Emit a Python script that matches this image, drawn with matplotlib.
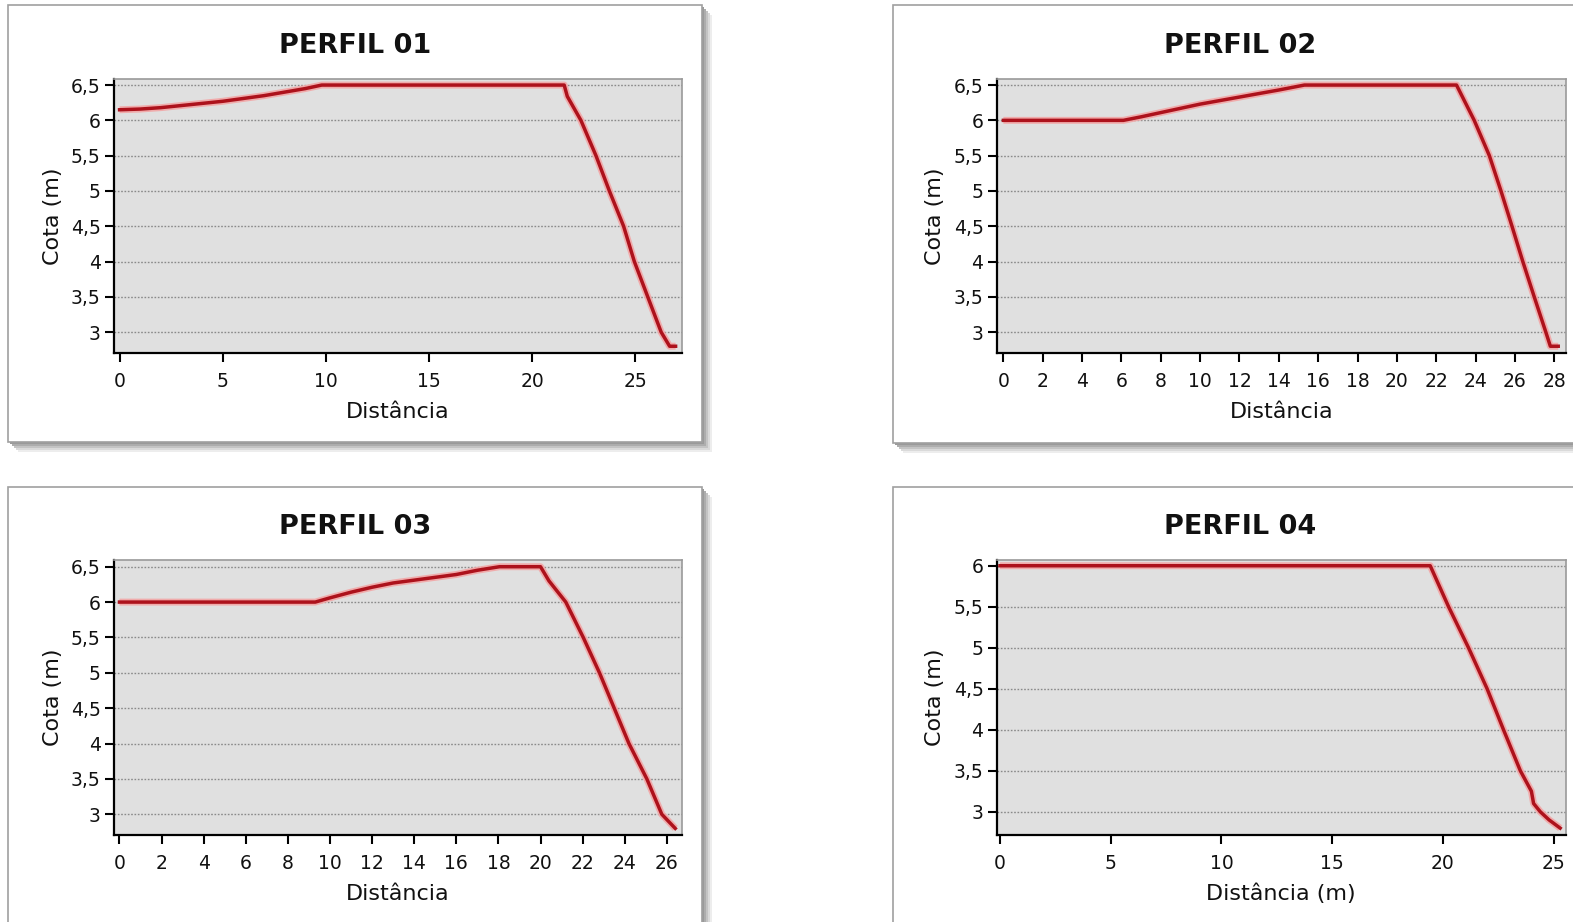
import matplotlib
matplotlib.use("Agg")
import matplotlib.pyplot as plt
from matplotlib.patches import Rectangle

plt.rcParams['font.family'] = ['DejaVu Sans']

# ---------------- data ----------------
titles = ["PERFIL 01", "PERFIL 02", "PERFIL 03", "PERFIL 04"]
xlabels = ["Distância", "Distância", "Distância", "Distância (m)"]
ylabel = "Cota (m)"

p1_x = [0, 1, 2, 3, 4, 5, 6, 7, 8, 9, 9.8, 21.55, 21.7, 22.36, 23.09, 23.74,
        24.43, 24.95, 25.6, 26.25, 26.66, 26.95]
p1_y = [6.15, 6.16, 6.18, 6.21, 6.24, 6.27, 6.31, 6.35, 6.40, 6.45, 6.5, 6.5,
        6.34, 6.0, 5.5, 5.0, 4.5, 4.0, 3.5, 3.0, 2.8, 2.8]

p2_x = [0, 6.1, 7, 8, 9, 10, 11, 12, 13, 14, 15.3, 23.03, 23.93, 24.7, 25.29,
        25.85, 26.4, 26.98, 27.57, 27.8, 28.2]
p2_y = [6.0, 6.0, 6.05, 6.11, 6.17, 6.23, 6.28, 6.33, 6.38, 6.43, 6.5, 6.5,
        6.0, 5.5, 5.0, 4.5, 4.0, 3.5, 3.0, 2.8, 2.8]

p3_x = [0, 9.3, 10, 11, 12, 13, 14, 15, 16, 17, 18.05, 20.0, 20.4, 21.2, 22.03,
        22.8, 23.5, 24.2, 25.05, 25.76, 26.4]
p3_y = [6.0, 6.0, 6.06, 6.14, 6.21, 6.27, 6.31, 6.35, 6.39, 6.45, 6.5, 6.5,
        6.3, 6.0, 5.5, 5.0, 4.5, 4.0, 3.5, 3.0, 2.8]

p4_x = [0, 19.43, 20.26, 21.16, 22.0, 22.74, 23.5, 24.0, 24.1, 24.4, 24.8, 25.3]
p4_y = [6.0, 6.0, 5.5, 5.0, 4.5, 4.0, 3.5, 3.25, 3.1, 3.0, 2.9, 2.8]

xticks_1 = [0, 5, 10, 15, 20, 25]
xticks_2 = list(range(0, 29, 2))
xticks_3 = list(range(0, 27, 2))
xticks_4 = [0, 5, 10, 15, 20, 25]

yticks_a = [3, 3.5, 4, 4.5, 5, 5.5, 6, 6.5]
ylabels_a = ["3", "3,5", "4", "4,5", "5", "5,5", "6", "6,5"]
yticks_b = [3, 3.5, 4, 4.5, 5, 5.5, 6]
ylabels_b = ["3", "3,5", "4", "4,5", "5", "5,5", "6"]

# ---------------- layout ----------------
W, H = 1573, 922
fig = plt.figure(figsize=(W / 100, H / 100), dpi=100)
fig.patch.set_facecolor("white")


def fx(px):
    return px / W


def fy(py):
    return 1 - py / H


def frame(x0, y0, x1, y1):
    # soft drop shadow
    for off, col in [(10, "#ededed"), (8, "#dadada"), (6, "#c4c4c4"), (4, "#adadad"), (2, "#9a9a9a")]:
        fig.patches.append(Rectangle((fx(x0 + off), fy(y1 + off)), fx(x1 - x0), (y1 - y0) / H,
                                     transform=fig.transFigure, facecolor=col,
                                     edgecolor="none", zorder=0))
    fig.patches.append(Rectangle((fx(x0), fy(y1)), fx(x1 - x0), (y1 - y0) / H,
                                 transform=fig.transFigure, facecolor="white",
                                 edgecolor="#a0a0a0", linewidth=1.2, zorder=0.5))


panels = [
    dict(x=p1_x, y=p1_y, xt=xticks_1, yt=yticks_a, yl=ylabels_a,
         xlim=(-0.27, 27.26), ylim=(2.70, 6.59), box=(114, 78.7, 682, 353.3),
         frame=(8, 5, 702, 442), tx=355, ty=46),
    dict(x=p2_x, y=p2_y, xt=xticks_2, yt=yticks_a, yl=ylabels_a,
         xlim=(-0.34, 28.58), ylim=(2.70, 6.59), box=(996.7, 78.7, 1565.7, 353.3),
         frame=(892.7, 5, 1586, 442.7), tx=1240, ty=46),
    dict(x=p3_x, y=p3_y, xt=xticks_3, yt=yticks_a, yl=ylabels_a,
         xlim=(-0.26, 26.72), ylim=(2.707, 6.595), box=(114, 560, 682, 835),
         frame=(8, 486.7, 702, 935), tx=355, ty=527),
    dict(x=p4_x, y=p4_y, xt=xticks_4, yt=yticks_b, yl=ylabels_b,
         xlim=(-0.15, 25.55), ylim=(2.716, 6.07), box=(996.7, 560, 1565.7, 835),
         frame=(892.7, 486.7, 1586, 935), tx=1240, ty=527),
]

for i, p in enumerate(panels):
    frame(*p["frame"])
    x0, y0, x1, y1 = p["box"]
    ax = fig.add_axes([fx(x0), fy(y1), fx(x1 - x0), (y1 - y0) / H])
    ax.set_zorder(2)
    ax.set_facecolor("#e0e0e0")
    ax.plot(p["x"], p["y"], color="#f2a6a6", lw=5.0, solid_capstyle="butt",
            solid_joinstyle="round", zorder=3, alpha=0.9, clip_on=False)
    ax.plot(p["x"], p["y"], color="#ad121c", lw=2.5, solid_joinstyle="round",
            zorder=4, clip_on=False)
    ax.set_xlim(*p["xlim"])
    ax.set_ylim(*p["ylim"])
    ax.set_xticks(p["xt"])
    ax.set_xticklabels([str(v) for v in p["xt"]])
    ax.set_yticks(p["yt"])
    ax.set_yticklabels(p["yl"])
    ax.yaxis.grid(True, linestyle=(0, (1.2, 1.2)), color="#8a8a8a", linewidth=1.0)
    ax.xaxis.grid(False)
    ax.set_axisbelow(True)
    ax.tick_params(axis="both", direction="out", length=6.5, width=1.5,
                   colors="black", labelsize=13.5, labelcolor="#111111")
    ax.tick_params(axis="x", pad=7)
    ax.tick_params(axis="y", pad=3)
    for s in ["left", "bottom"]:
        ax.spines[s].set_color("black")
        ax.spines[s].set_linewidth(1.6)
    for s in ["top", "right"]:
        ax.spines[s].set_color("#9a9a9a")
        ax.spines[s].set_linewidth(1.2)
    ax.set_xlabel(xlabels[i], fontsize=16, color="#111111", labelpad=8)
    ax.set_ylabel(ylabel, fontsize=16, color="#111111", labelpad=6)
    fig.text(fx(p["tx"]), fy(p["ty"]), titles[i], ha="center", va="center",
             fontsize=19.5, fontweight="bold", color="#111111")

fig.savefig("out.png", dpi=100, facecolor="white")
